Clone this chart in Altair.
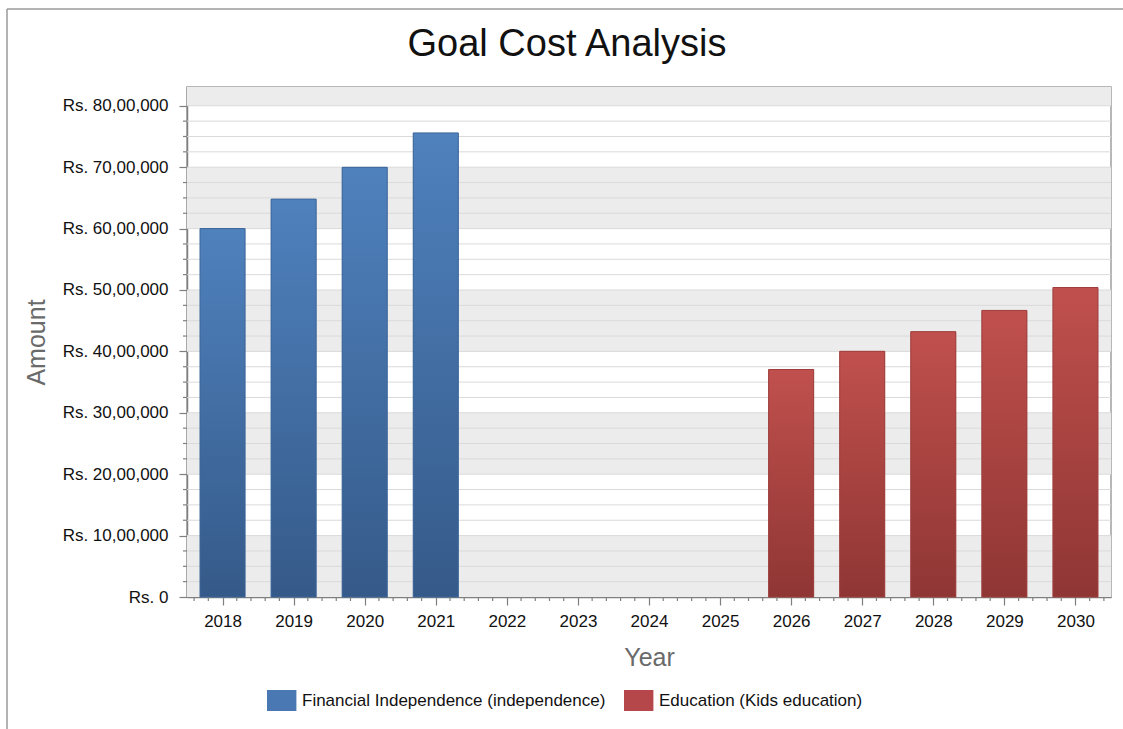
import altair as alt
import pandas as pd

# ---- data ----
FI_YEARS = [2018, 2019, 2020, 2021]
FI_VALUES = [6000000, 6480000, 6998400, 7558272]
EDU_YEARS = [2026, 2027, 2028, 2029, 2030]
EDU_VALUES = [3705000, 4001400, 4321500, 4667200, 5040600]
SERIES = ["Financial Independence (independence)", "Education (Kids education)"]
ALL_YEARS = list(range(2018, 2031))
Y_TICKS = [0, 1000000, 2000000, 3000000, 4000000, 5000000, 6000000, 7000000, 8000000]
BAND_STARTS = [0, 2000000, 4000000, 6000000, 8000000]

X_MIN, X_MAX = 2017.5, 2030.5
Y_MAX = 8306000
BAR_HALF = 0.317
W, H = 924, 510
FONT = "Liberation Sans"

rows = []
for y, v in zip(FI_YEARS, FI_VALUES):
    rows.append({"year": y, "value": v, "series": SERIES[0]})
for y, v in zip(EDU_YEARS, EDU_VALUES):
    rows.append({"year": y, "value": v, "series": SERIES[1]})
bars = pd.DataFrame(rows)
bars["lo"] = bars["year"] - BAR_HALF
bars["hi"] = bars["year"] + BAR_HALF

xs = alt.Scale(domain=[X_MIN, X_MAX], nice=False, zero=False)
ys = alt.Scale(domain=[0, Y_MAX], nice=False)

X_AXIS = alt.Axis(values=ALL_YEARS, format="d", tickSize=8, labelPadding=8,
                  titlePadding=16, labelFontSize=17, titleFontSize=25, title="Year")
Y_AXIS = alt.Axis(values=Y_TICKS, tickSize=8, labelPadding=11, titlePadding=13,
                  labelFontSize=17, titleFontSize=25, title="Amount",
                  labelExpr="datum.value == 0 ? 'Rs. 0' : 'Rs. ' + format(datum.value / 100000, 'd') + ',00,000'")

bands = pd.DataFrame({"b0": BAND_STARTS, "b1": [min(b + 1000000, Y_MAX) for b in BAND_STARTS]})
grid_vals = [250000 * k for k in range(1, 33)]
grid = pd.DataFrame({"v": grid_vals})
y_minor = pd.DataFrame({"v": [g for g in grid_vals if g % 1000000 != 0]})
x_minor = pd.DataFrame({"v": [y + d for y in ALL_YEARS for d in (-0.4, -0.2, 0.2, 0.4)]})
one = pd.DataFrame({"a": [0]})

frame_v = alt.Chart(one).mark_rule(color="#9a9a9a", strokeWidth=1.5).encode(
    x=alt.value(-180), y=alt.value(-78), y2=alt.value(H + 132))
frame_h = alt.Chart(one).mark_rule(color="#9a9a9a", strokeWidth=1.5).encode(
    x=alt.value(-180), x2=alt.value(W + 12), y=alt.value(-78))
title_layer = alt.Chart(one).mark_text(
    text="Goal Cost Analysis", font=FONT, fontSize=38, color="#111111",
    align="center", baseline="alphabetic").encode(x=alt.value(567 - 187), y=alt.value(56 - 87))

band_layer = alt.Chart(bands).mark_rect(color="#ececec", clip=True).encode(
    x=alt.datum(X_MIN, scale=xs, axis=X_AXIS), x2=alt.datum(X_MAX),
    y=alt.Y("b0:Q", scale=ys, axis=Y_AXIS), y2="b1:Q")

grid_layer = alt.Chart(grid).mark_rule(color="#dadada", strokeWidth=1).encode(
    x=alt.datum(X_MIN, scale=xs, axis=X_AXIS), x2=alt.datum(X_MAX),
    y=alt.Y("v:Q", scale=ys, axis=Y_AXIS))

base_bars = alt.Chart(bars).mark_bar().encode(
    x=alt.X("lo:Q", scale=xs, axis=X_AXIS),
    x2="hi:Q",
    y=alt.Y("value:Q", scale=ys, axis=Y_AXIS),
    y2=alt.datum(0),
    color=alt.Color("series:N", scale=alt.Scale(domain=SERIES, range=["#4a78b2", "#b5474a"]),
                    legend=alt.Legend(title=None, orient="none", legendX=80, legendY=603,
                                      direction="horizontal", labelFontSize=17, labelLimit=500,
                                      symbolType="M-1,-1H1.8V1H-1Z", symbolSize=441,
                                      symbolStrokeWidth=0, labelOffset=14, columnPadding=18,
                                      labelFont=FONT, labelColor="#111")))


def grad(top, bottom):
    return alt.Gradient(gradient="linear",
                        stops=[alt.GradientStop(color=top, offset=0),
                               alt.GradientStop(color=bottom, offset=1)],
                        x1=0, x2=0, y1=0, y2=1)


fi_bars = alt.Chart(bars).transform_filter(alt.datum.series == SERIES[0]).mark_bar(
    color=grad("#4f81bd", "#355a89"), stroke="#3d6699", strokeWidth=1).encode(
    x=alt.X("lo:Q", scale=xs, axis=X_AXIS), x2="hi:Q",
    y=alt.Y("value:Q", scale=ys, axis=Y_AXIS), y2=alt.datum(0))
edu_bars = alt.Chart(bars).transform_filter(alt.datum.series == SERIES[1]).mark_bar(
    color=grad("#c0504d", "#8f3634"), stroke="#9e3f3d", strokeWidth=1).encode(
    x=alt.X("lo:Q", scale=xs, axis=X_AXIS), x2="hi:Q",
    y=alt.Y("value:Q", scale=ys, axis=Y_AXIS), y2=alt.datum(0))

y_minor_layer = alt.Chart(y_minor).mark_rule(color="#808080", strokeWidth=1.2).encode(
    x=alt.value(-4), x2=alt.value(0), y=alt.Y("v:Q", scale=ys, axis=Y_AXIS))
x_minor_layer = alt.Chart(x_minor).mark_rule(color="#808080", strokeWidth=1.2).encode(
    x=alt.X("v:Q", scale=xs, axis=X_AXIS), y=alt.value(H), y2=alt.value(H + 4))

chart = alt.layer(
    frame_v, frame_h, title_layer, band_layer, grid_layer, base_bars, fi_bars, edu_bars,
    y_minor_layer, x_minor_layer
).properties(
    width=W, height=H,
    autosize=alt.AutoSizeParams(type="none"),
    padding={"left": 187, "top": 87, "right": 12, "bottom": 132},
    background="white",
).configure_view(
    stroke="#a0a0a0", strokeWidth=1.5
).configure_axis(
    domainColor="#7f7f7f", domainWidth=1.5, tickColor="#7f7f7f", tickWidth=1.2,
    labelFont=FONT, titleFont=FONT, labelColor="#111111", titleColor="#6a6a6a",
    titleFontWeight="normal", grid=False
)

chart.save("out.html", embed_options={"renderer": "svg", "actions": False})
